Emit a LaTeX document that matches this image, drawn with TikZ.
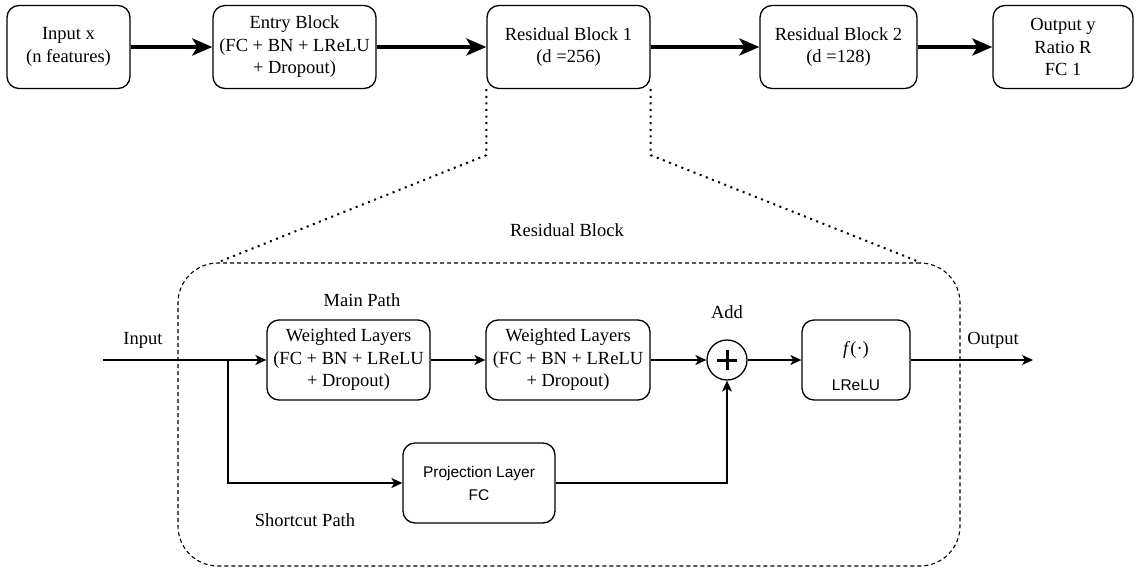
\documentclass[tikz,border=0pt]{standalone}
\usepackage{fontspec}
\setmainfont{Liberation Serif}
\setsansfont{Liberation Sans}
\usetikzlibrary{arrows.meta,calc}
\begin{document}
\begin{tikzpicture}[x=1pt,y=-1pt,
  box/.style={draw, line width=1.3pt, rounded corners=12pt, align=center, inner sep=0pt,
    font=\fontsize{18.5}{22.5}\selectfont},
  bigarrow/.style={line width=4.2pt, -{Stealth[length=20pt,width=17pt,inset=5pt]}},
  smallarrow/.style={line width=1.3pt, -{Stealth[length=11pt,width=10pt,inset=3pt]}},
  plainline/.style={line width=1.3pt},
  lbl/.style={font=\fontsize{18.5}{22.5}\selectfont, inner sep=0pt},
  dots/.style={line width=2pt, dash pattern=on 2pt off 4.6pt},
  container/.style={draw, line width=1.1pt, dash pattern=on 4pt off 3pt, rounded corners=40pt, inner sep=0pt},
]
\useasboundingbox (0,0) rectangle (1140,570);

% top row
\node[box, minimum width=123pt, minimum height=83pt] (in) at (68.5,47) {Input x\\(n features)};
\node[box, minimum width=163pt, minimum height=83pt] (entry) at (294.5,47) {Entry Block\\(FC + BN + LReLU\\+ Dropout)};
\node[box, minimum width=163pt, minimum height=83pt] (res1) at (568.5,47) {Residual Block 1\\(d =256)};
\node[box, minimum width=157pt, minimum height=83pt] (res2) at (838.5,47) {Residual Block 2\\(d =128)};
\node[box, minimum width=140pt, minimum height=83pt] (out) at (1063,47) {Output y\\Ratio R\\FC 1};

\draw[bigarrow] (in) -- (entry);
\draw[bigarrow] (entry) -- (res1);
\draw[bigarrow] (res1) -- (res2);
\draw[bigarrow] (res2) -- (out);

% container
\node[container, minimum width=782pt, minimum height=303pt] (rb) at (569,414.5) {};
\node[lbl] (rblbl) at (567,230) {Residual Block};
\coordinate (rbL) at ($(rb.north west)+(40,0)$);
\coordinate (rbR) at ($(rb.north east)+(-40,0)$);
\draw[dots] (res1.south west) -- ++(0,66) -- (rbL);
\draw[dots] (res1.south east) -- ++(0,66) -- (rbR);

% inner
\node[box, minimum width=163pt, minimum height=80pt] (w1) at (348.5,360) {Weighted Layers\\(FC + BN + LReLU\\+ Dropout)};
\node[box, minimum width=164pt, minimum height=80pt] (w2) at (568,360) {Weighted Layers\\(FC + BN + LReLU\\+ Dropout)};
\node[draw, circle, line width=1.3pt, minimum size=40pt, inner sep=0pt] (add) at (727,360) {};
\draw[line width=3pt] ($(add.center)+(-10,0)$) -- ($(add.center)+(10,0)$);
\draw[line width=3pt] ($(add.center)+(0,-10)$) -- ($(add.center)+(0,10)$);
\node[box, minimum width=108pt, minimum height=80pt] (f) at (856,360) {};
\node[lbl] (fl) at (856,350) {\itshape f\/\upshape(·)};
\node[inner sep=0pt, font=\sffamily\fontsize{15.5}{18}\selectfont] (fr) at (856,385) {LReLU};
\node[box, minimum width=152pt, minimum height=80pt, font=\sffamily\fontsize{15.5}{23}\selectfont] (proj) at (479,483) {Projection Layer\\FC};

\coordinate (inS) at (103,360);
\coordinate (br) at (228,360);
\coordinate (outE) at (1033,360);

\draw[smallarrow] (inS) -- (w1);
\draw[smallarrow] (br) |- (proj);
\draw[smallarrow] (w1) -- (w2);
\draw[smallarrow] (w2) -- (add);
\draw[smallarrow] (add) -- (f);
\draw[smallarrow] (f) -- (outE);
\draw[smallarrow] (proj.east) -| (add.south);

\node[lbl] (inlbl) at (143,340) {Input};
\node[lbl] (outlbl) at (993,340) {Output};
\node[lbl] (addlbl) at (727,312) {Add};
\node[lbl] (mainlbl) at (362,300) {Main Path};
\node[lbl] (shortlbl) at (305,520) {Shortcut Path};
\end{tikzpicture}
\end{document}
